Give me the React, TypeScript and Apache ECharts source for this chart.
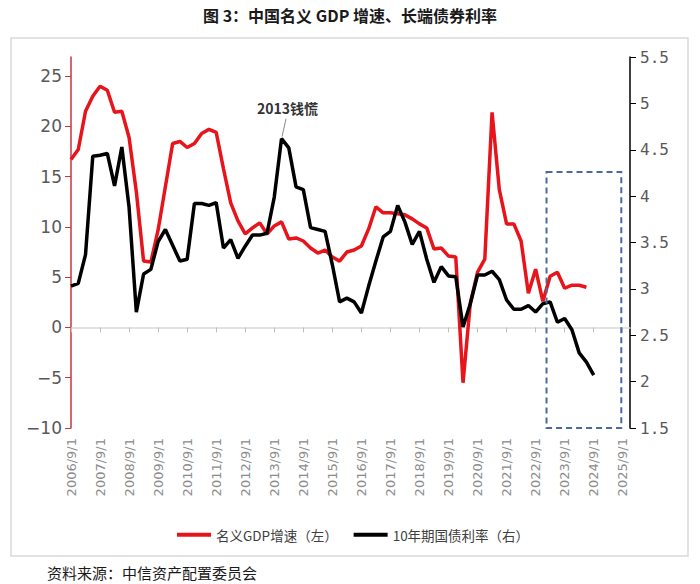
import React, { useEffect, useRef } from "react";
import * as echarts from "echarts";

const TITLE = "图 3：中国名义 GDP 增速、长端债券利率";
const SOURCE = "资料来源：中信资产配置委员会";
const ANNOTATION = "2013钱慌";
const SERIES_NAMES = ["名义GDP增速（左）", "10年期国债利率（右）"];

// quarterly category labels 2006/9/1 ... 2025/12/1
const quarters: string[] = [];
for (let y = 2006; y <= 2025; y++) {
  for (const m of [3, 6, 9, 12]) {
    if (y === 2006 && m < 9) continue;
    quarters.push(`${y}/${m}/1`);
  }
}

// 名义GDP增速 (%), left axis, from 2006/9/1
const gdpGrowth = [
  16.7, 17.7, 21.5, 23.0, 24.0, 23.6, 21.4, 21.5, 18.9, 13.5,
  6.6, 6.5, 9.7, 14.0, 18.3, 18.5, 17.9, 18.3, 19.3, 19.7,
  19.4, 15.8, 12.4, 10.6, 9.3, 9.9, 10.4, 9.3, 10.1, 10.5,
  8.8, 8.9, 8.6, 7.9, 7.4, 7.7, 7.0, 6.6, 7.5, 7.7,
  8.1, 9.8, 12.0, 11.4, 11.4, 11.3, 11.2, 10.8, 10.3, 9.9,
  7.8, 7.9, 7.1, 7.0, -5.5, 2.4, 5.5, 6.8, 21.4, 13.7,
  10.3, 10.3, 8.6, 3.4, 5.8, 2.6, 5.1, 5.5, 3.9, 4.2,
  4.2, 4.0,
];

// 10年期国债利率 (%), right axis, from 2006/9/1
const bondYield = [
  3.03, 3.06, 3.37, 4.43, 4.44, 4.46, 4.11, 4.53, 3.88, 2.75,
  3.16, 3.21, 3.51, 3.64, 3.47, 3.30, 3.32, 3.92, 3.92, 3.90,
  3.93, 3.44, 3.53, 3.33, 3.46, 3.58, 3.58, 3.60, 3.99, 4.62,
  4.52, 4.10, 4.07, 3.66, 3.64, 3.62, 3.26, 2.86, 2.90, 2.86,
  2.74, 3.03, 3.30, 3.56, 3.62, 3.90, 3.72, 3.48, 3.62, 3.32,
  3.07, 3.24, 3.14, 3.13, 2.59, 2.84, 3.15, 3.15, 3.19, 3.10,
  2.88, 2.78, 2.78, 2.82, 2.75, 2.84, 2.86, 2.64, 2.68, 2.56,
  2.31, 2.21, 2.07,
];

const leftTicks = [-10, -5, 0, 5, 10, 15, 20, 25];
const ANNOT_INDEX = 29;
const BOX_FROM = 65.5;
const BOX_TO = 75.8;
const BOX_TOP = 4.26;

const FONT = "'Noto Sans CJK SC', 'Noto Sans', sans-serif";

export default function App() {
  const ref = useRef<HTMLDivElement>(null);
  useEffect(() => {
    if (!ref.current) return;
    const chart = echarts.init(ref.current, undefined, { renderer: "svg" });
    chart.setOption({
      animation: false,
      backgroundColor: "#ffffff",
      grid: { left: 71, right: 70, top: 57, bottom: 156, containLabel: false },
      legend: {
        left: 172,
        top: 523,
        icon: "rect",
        itemWidth: 34,
        itemHeight: 4,
        itemGap: 16,
        textStyle: { fontFamily: FONT, fontSize: 13.5, color: "#404040" },
        data: SERIES_NAMES,
      },
      xAxis: {
        type: "category",
        data: quarters,
        boundaryGap: false,
        axisLine: { show: true, lineStyle: { color: "#d9d9d9", width: 1.5 } },
        axisTick: { show: true, interval: 3, length: 5, lineStyle: { color: "#bfbfbf" } },
        axisLabel: {
          interval: 3,
          rotate: 90,
          margin: 10,
          color: "#8c8c8c",
          fontSize: 13,
          fontFamily: "'DejaVu Sans', sans-serif",
        },
        splitLine: { show: false },
      },
      yAxis: [
        {
          type: "value",
          position: "left",
          min: -10,
          max: 26.9,
          interval: 5,
          axisLine: { show: true, lineStyle: { color: "#c9353f", width: 1.5 } },
          axisTick: { show: true, length: 6, customValues: leftTicks, lineStyle: { color: "#c9353f" } },
          axisLabel: {
            customValues: leftTicks,
            margin: 9,
            color: "#595959",
            fontSize: 17,
            fontFamily: "'DejaVu Sans', sans-serif",
            formatter: (v: number) => String(v).replace("-", "\u2212"),
          },
          splitLine: { show: false },
        },
        {
          type: "value",
          position: "right",
          min: 1.5,
          max: 5.5,
          interval: 0.5,
          axisLine: { show: true, lineStyle: { color: "#000000", width: 1.5 } },
          axisTick: { show: true, length: 6, lineStyle: { color: "#000000" } },
          axisLabel: {
            margin: 10,
            color: "#595959",
            fontSize: 16,
            fontFamily: "'DejaVu Sans Mono', monospace",
          },
          splitLine: { show: false },
        },
      ],
      series: [
        {
          name: SERIES_NAMES[0],
          type: "line",
          yAxisIndex: 0,
          data: gdpGrowth,
          showSymbol: false,
          symbol: "none",
          lineStyle: { color: "#e8141b", width: 3.5 },
          itemStyle: { color: "#e8141b" },
        },
        {
          name: SERIES_NAMES[1],
          type: "line",
          yAxisIndex: 1,
          data: bondYield,
          showSymbol: false,
          symbol: "none",
          lineStyle: { color: "#000000", width: 3.5 },
          itemStyle: { color: "#000000" },
        },
      ],
    });

    const px = (i: number) => chart.convertToPixel({ xAxisIndex: 0 }, i) as number;
    const pxFrac = (f: number) => {
      const a = Math.floor(f);
      const t = f - a;
      return px(a) * (1 - t) + px(a + 1) * t;
    };
    const pyR = (v: number) => chart.convertToPixel({ yAxisIndex: 1 }, v) as number;
    const ap = chart.convertToPixel({ seriesIndex: 1 }, [ANNOT_INDEX, bondYield[ANNOT_INDEX]]) as number[];
    const bx0 = pxFrac(BOX_FROM);
    const bx1 = pxFrac(BOX_TO);
    const by0 = pyR(BOX_TOP);
    const by1 = pyR(1.5);

    chart.setOption({
      graphic: [
        {
          type: "rect",
          silent: true,
          shape: { x: 11, y: 38, width: 677, height: 518 },
          style: { fill: "none", stroke: "#d9d9d9", lineWidth: 1.5 },
          z: 0,
        },
        {
          type: "text",
          x: 350,
          y: 15,
          style: {
            text: TITLE,
            fontFamily: FONT,
            fontSize: 16,
            fontWeight: "bold",
            fill: "#1a1a1a",
            align: "center",
            verticalAlign: "middle",
          },
        },
        {
          type: "text",
          x: 47,
          y: 572,
          style: {
            text: SOURCE,
            fontFamily: FONT,
            fontSize: 15,
            fill: "#1a1a1a",
            align: "left",
            verticalAlign: "middle",
          },
        },
        {
          type: "rect",
          silent: true,
          shape: { x: bx0, y: by0, width: bx1 - bx0, height: by1 - by0 },
          style: { fill: "none", stroke: "#4a6a9b", lineWidth: 2, lineDash: [6, 4] },
          z: 10,
        },
        {
          type: "line",
          silent: true,
          shape: { x1: ap[0] + 4.5, y1: ap[1] - 20, x2: ap[0] + 0.5, y2: ap[1] - 2 },
          style: { stroke: "#8c8c8c", lineWidth: 1 },
          z: 10,
        },
        {
          type: "text",
          x: ap[0] + 6,
          y: ap[1] - 31,
          style: {
            text: ANNOTATION,
            fontFamily: FONT,
            fontSize: 14,
            fontWeight: "bold",
            fill: "#333333",
            align: "center",
            verticalAlign: "middle",
          },
          z: 10,
        },
      ],
    });

    return () => chart.dispose();
  }, []);

  return (
    <div
      ref={ref}
      style={{ position: "fixed", left: 0, top: 0, width: 700, height: 584 }}
    />
  );
}
